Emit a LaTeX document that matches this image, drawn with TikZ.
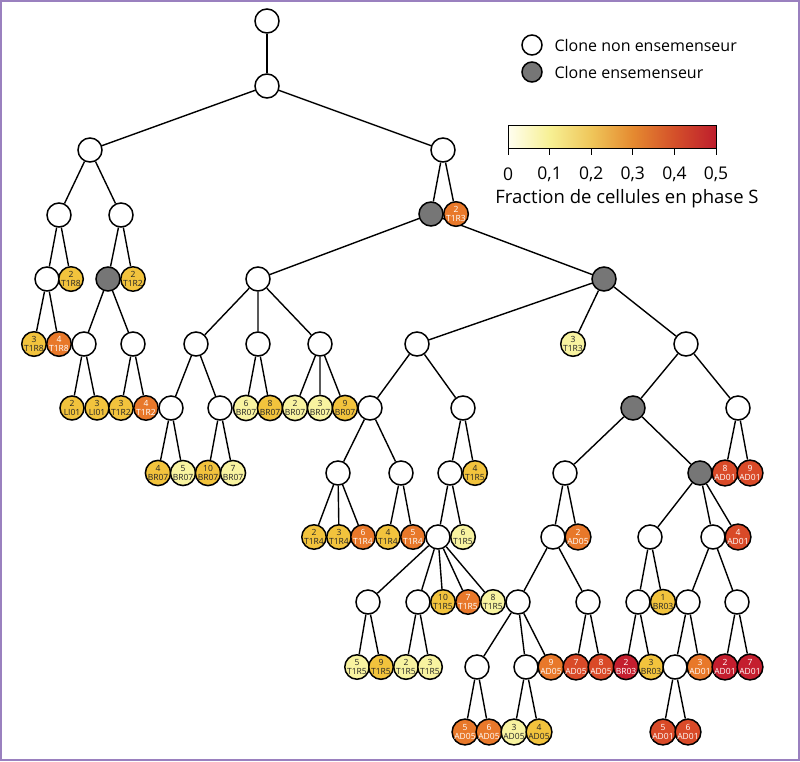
\documentclass[tikz,border=0pt]{standalone}
\usepackage{fontspec}
\setmainfont{Open Sans}
\usetikzlibrary{backgrounds}

\definecolor{pale}{HTML}{F8F3A0}
\definecolor{gold}{HTML}{F2C33D}
\definecolor{orng}{HTML}{E8782A}
\definecolor{rorg}{HTML}{D94A28}
\definecolor{dred}{HTML}{C41E2E}
\definecolor{seed}{HTML}{767676}
\definecolor{frame}{HTML}{9A80BF}
\definecolor{bar0}{HTML}{FFFEF0}
\definecolor{bar1}{HTML}{F7F094}
\definecolor{bar2}{HTML}{EFC65A}
\definecolor{bar3}{HTML}{E58A30}
\definecolor{bar4}{HTML}{D4502A}
\definecolor{bar5}{HTML}{BE1E2D}

\pgfdeclarehorizontalshading{sphase}{100bp}{color(0bp)=(bar0); color(25bp)=(bar0);
  color(35bp)=(bar1); color(45bp)=(bar2); color(55bp)=(bar3); color(65bp)=(bar4);
  color(75bp)=(bar5); color(100bp)=(bar5)}

\begin{document}
\begin{tikzpicture}[x=1pt,y=-1pt,
  clone/.style={circle,draw,line width=1.5pt,fill=white,minimum size=24pt,inner sep=0pt},
  seeder/.style={clone,fill=seed},
  leaf/.style={clone,align=center,font=\fontsize{8.5}{8.5}\selectfont,text=black!85},
  lt/.style={leaf,fill=pale},
  lg/.style={leaf,fill=gold},
  lo/.style={leaf,fill=orng,text=white},
  lr/.style={leaf,fill=rorg,text=white},
  ld/.style={leaf,fill=dred,text=white},
  edge/.style={line width=1.4pt}]

\useasboundingbox (0,0) rectangle (800,761);
\draw[frame,line width=1.5pt] (1,1) rectangle (799,760);

% legend
\node[clone,minimum size=20pt] (keyw) at (532,45) {};
\node[seeder,minimum size=20pt] (keyg) at (532,72) {};
\node[anchor=west,font=\fontsize{16}{18}\selectfont] at (551,45) {Clone non ensemenseur};
\node[anchor=west,font=\fontsize{16}{18}\selectfont] at (551,72) {Clone ensemenseur};

% colour bar
\shade[shading=sphase] (508,125) rectangle (716,148);
\draw[line width=1pt] (508,125) rectangle (716,148);
\foreach \t [count=\i from 0] in {0,{0,1},{0,2},{0,3},{0,4},{0,5}} {
  \draw[line width=1pt] (508+41.6*\i,148) -- (508+41.6*\i,155);
  \node[font=\fontsize{17.5}{19}\selectfont] at (508+41.6*\i,174) {\t};
}
\node[font=\fontsize{18.5}{20}\selectfont] at (627,199) {Fraction de cellules en phase S};

% level 0-3
\node[clone] (n0) at (267,21) {};
\node[clone] (n1) at (267,86) {};
\node[clone] (n2a) at (90,150) {};
\node[clone] (n2b) at (443,150) {};
\node[clone] (n3a) at (59,215) {};
\node[clone] (n3b) at (121,215) {};
\node[seeder] (g3) at (431,214) {};
\node[lo] (T1R3n2) at (456,214) {2\\T1R3};

% level 4
\node[clone] (n4a) at (47,279) {};
\node[lg] (T1R8n2) at (71,279) {2\\T1R8};
\node[seeder] (g4a) at (108,279) {};
\node[lg] (T1R2n2) at (133,279) {2\\T1R2};
\node[clone] (n4b) at (258,279) {};
\node[seeder] (g4b) at (604,279) {};

% level 5
\node[lg] (T1R8n3) at (34,344) {3\\T1R8};
\node[lo] (T1R8n4) at (59,344) {4\\T1R8};
\node[clone] (n5a) at (84,344) {};
\node[clone] (n5b) at (133,344) {};
\node[clone] (n5c) at (196,344) {};
\node[clone] (n5d) at (258,344) {};
\node[clone] (n5e) at (320,344) {};
\node[clone] (n5f) at (417,344) {};
\node[lt] (T1R3n3) at (573,344) {3\\T1R3};
\node[clone] (n5g) at (686,344) {};

% level 6
\node[lg] (LI01n2) at (72,408) {2\\LI01};
\node[lg] (LI01n3) at (97,408) {3\\LI01};
\node[lg] (T1R2n3) at (121,408) {3\\T1R2};
\node[lo] (T1R2n4) at (146,408) {4\\T1R2};
\node[clone] (n6a) at (171,408) {};
\node[clone] (n6b) at (220,408) {};
\node[lt] (BR07n6) at (246,408) {6\\BR07};
\node[lg] (BR07n8) at (270,408) {8\\BR07};
\node[lt] (BR07n2) at (295,408) {2\\BR07};
\node[lt] (BR07n3) at (320,408) {3\\BR07};
\node[lg] (BR07n9) at (345,408) {9\\BR07};
\node[clone] (n6c) at (370,408) {};
\node[clone] (n6d) at (463,408) {};
\node[seeder] (g6) at (633,408) {};
\node[clone] (n6e) at (738,408) {};

% level 7
\node[lg] (BR07n4) at (158,473) {4\\BR07};
\node[lt] (BR07n5) at (183,473) {5\\BR07};
\node[lg] (BR07n10) at (208,473) {10\\BR07};
\node[lt] (BR07n7) at (233,473) {7\\BR07};
\node[clone] (n7a) at (338,473) {};
\node[clone] (n7b) at (401,473) {};
\node[clone] (n7c) at (450,473) {};
\node[lg] (T1R5n4) at (475,473) {4\\T1R5};
\node[clone] (n7d) at (565,473) {};
\node[seeder] (g7) at (700,473) {};
\node[lr] (AD01n8) at (725,473) {8\\AD01};
\node[lr] (AD01n9) at (750,473) {9\\AD01};

% level 8
\node[lg] (T1R4n2) at (314,537) {2\\T1R4};
\node[lg] (T1R4n3) at (339,537) {3\\T1R4};
\node[lo] (T1R4n6) at (363,537) {6\\T1R4};
\node[lg] (T1R4n4) at (388,537) {4\\T1R4};
\node[lo] (T1R4n5) at (413,537) {5\\T1R4};
\node[clone] (n8a) at (438,537) {};
\node[lt] (T1R5n6) at (463,537) {6\\T1R5};
\node[clone] (n8b) at (553,537) {};
\node[lo] (AD05n2) at (578,537) {2\\AD05};
\node[clone] (n8c) at (650,537) {};
\node[clone] (n8d) at (713,537) {};
\node[lr] (AD01n4) at (738,537) {4\\AD01};

% level 9
\node[clone] (n9a) at (368,602) {};
\node[clone] (n9b) at (418,602) {};
\node[lg] (T1R5n10) at (443,602) {10\\T1R5};
\node[lo] (T1R5n7) at (468,602) {7\\T1R5};
\node[lt] (T1R5n8) at (493,602) {8\\T1R5};
\node[clone] (n9c) at (518,602) {};
\node[clone] (n9d) at (588,602) {};
\node[clone] (n9e) at (638,602) {};
\node[lg] (BR03n1) at (663,602) {1\\BR03};
\node[clone] (n9f) at (688,602) {};
\node[clone] (n9g) at (737,602) {};

% level 10
\node[lt] (T1R5n5) at (357,667) {5\\T1R5};
\node[lg] (T1R5n9) at (381,667) {9\\T1R5};
\node[lt] (T1R5n2) at (406,667) {2\\T1R5};
\node[lt] (T1R5n3) at (430,667) {3\\T1R5};
\node[clone] (n10a) at (477,667) {};
\node[clone] (n10b) at (526,667) {};
\node[lo] (AD05n9) at (551,667) {9\\AD05};
\node[lr] (AD05n7) at (576,667) {7\\AD05};
\node[lr] (AD05n8) at (601,667) {8\\AD05};
\node[ld] (BR03n2) at (626,667) {2\\BR03};
\node[lg] (BR03n3) at (651,667) {3\\BR03};
\node[clone] (n10c) at (675,667) {};
\node[lo] (AD01n3) at (700,667) {3\\AD01};
\node[ld] (AD01n2) at (725,667) {2\\AD01};
\node[ld] (AD01n7) at (750,667) {7\\AD01};

% level 11
\node[lo] (AD05n5) at (465,732) {5\\AD05};
\node[lo] (AD05n6) at (489,732) {6\\AD05};
\node[lt] (AD05n3) at (514,732) {3\\AD05};
\node[lg] (AD05n4) at (539,732) {4\\AD05};
\node[lr] (AD01n5) at (663,732) {5\\AD01};
\node[lr] (AD01n6) at (688,732) {6\\AD01};

% branches
\begin{scope}[on background layer]
\begin{scope}[edge]
\draw (n0) -- (n1);
\draw (n1) -- (n2a) (n1) -- (n2b);
\draw (n2a) -- (n3a) (n2a) -- (n3b);
\draw (n2b) -- (g3) (n2b) -- (T1R3n2);
\draw (n3a) -- (n4a) (n3a) -- (T1R8n2);
\draw (n3b) -- (g4a) (n3b) -- (T1R2n2);
\draw (g3) -- (n4b) (g3) -- (g4b);
\draw (n4a) -- (T1R8n3) (n4a) -- (T1R8n4);
\draw (g4a) -- (n5a) (g4a) -- (n5b);
\draw (n4b) -- (n5c) (n4b) -- (n5d) (n4b) -- (n5e);
\draw (g4b) -- (n5f) (g4b) -- (T1R3n3) (g4b) -- (n5g);
\draw (n5a) -- (LI01n2) (n5a) -- (LI01n3);
\draw (n5b) -- (T1R2n3) (n5b) -- (T1R2n4);
\draw (n5c) -- (n6a) (n5c) -- (n6b);
\draw (n5d) -- (BR07n6) (n5d) -- (BR07n8);
\draw (n5e) -- (BR07n2) (n5e) -- (BR07n3) (n5e) -- (BR07n9);
\draw (n5f) -- (n6c) (n5f) -- (n6d);
\draw (n5g) -- (g6) (n5g) -- (n6e);
\draw (n6a) -- (BR07n4) (n6a) -- (BR07n5);
\draw (n6b) -- (BR07n10) (n6b) -- (BR07n7);
\draw (n6c) -- (n7a) (n6c) -- (n7b);
\draw (n6d) -- (n7c) (n6d) -- (T1R5n4);
\draw (g6) -- (n7d) (g6) -- (g7);
\draw (n6e) -- (AD01n8) (n6e) -- (AD01n9);
\draw (n7a) -- (T1R4n2) (n7a) -- (T1R4n3) (n7a) -- (T1R4n6);
\draw (n7b) -- (T1R4n4) (n7b) -- (T1R4n5);
\draw (n7c) -- (n8a) (n7c) -- (T1R5n6);
\draw (n7d) -- (n8b) (n7d) -- (AD05n2);
\draw (g7) -- (n8c) (g7) -- (n8d) (g7) -- (AD01n4);
\draw (n8a) -- (n9a) (n8a) -- (n9b) (n8a) -- (T1R5n10) (n8a) -- (T1R5n7) (n8a) -- (T1R5n8);
\draw (n8b) -- (n9c) (n8b) -- (n9d);
\draw (n8c) -- (n9e) (n8c) -- (BR03n1);
\draw (n8d) -- (n9f) (n8d) -- (n9g);
\draw (n9a) -- (T1R5n5) (n9a) -- (T1R5n9);
\draw (n9b) -- (T1R5n2) (n9b) -- (T1R5n3);
\draw (n9c) -- (n10a) (n9c) -- (n10b) (n9c) -- (AD05n9);
\draw (n9d) -- (AD05n7) (n9d) -- (AD05n8);
\draw (n9e) -- (BR03n2) (n9e) -- (BR03n3);
\draw (n9f) -- (n10c) (n9f) -- (AD01n3);
\draw (n9g) -- (AD01n2) (n9g) -- (AD01n7);
\draw (n10a) -- (AD05n5) (n10a) -- (AD05n6);
\draw (n10b) -- (AD05n3) (n10b) -- (AD05n4);
\draw (n10c) -- (AD01n5) (n10c) -- (AD01n6);
\end{scope}
\end{scope}
\end{tikzpicture}
\end{document}
